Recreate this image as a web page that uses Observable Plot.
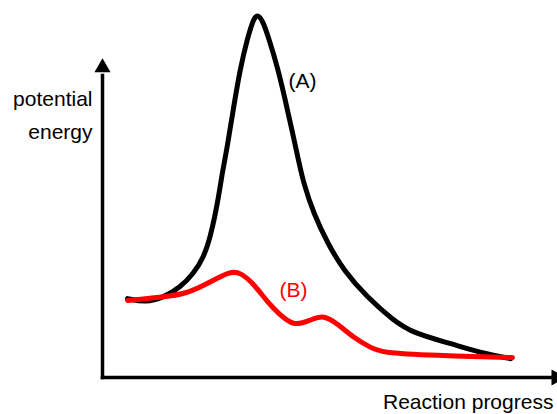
<!DOCTYPE html>
<html>
<head>
<meta charset="utf-8">
<script src="https://cdn.jsdelivr.net/npm/d3@7"></script>
<script src="https://cdn.jsdelivr.net/npm/@observablehq/plot@0.6"></script>
<style>
  html, body { margin: 0; padding: 0; background: #fff; }
  #chart svg { display: block; }
</style>
</head>
<body>
<div id="chart"></div>
<script>
// Curve (A): uncatalysed reaction (reaction progress, potential energy)
const curveAx = [5.5, 9.5, 13.4, 17.1, 20.0, 22.2, 23.7, 25.3, 26.4, 27.3, 28.8, 30.3, 31.9, 33.2, 34.1, 35.2, 36.5, 38.5, 40.2, 41.8, 43.1, 44.2, 46.4, 49.5, 53.0, 58.2, 64.0, 68.4, 76.5, 83.7, 89.7];
const curveAy = [21.8, 20.7, 22.1, 24.9, 28.7, 33.1, 38.7, 48.1, 57.2, 62.7, 74.6, 85.6, 93.9, 99.2, 100.3, 98.6, 93.9, 85.6, 76.5, 67.4, 59.9, 53.6, 45.3, 37.0, 29.6, 22.1, 15.7, 12.2, 9.4, 6.6, 5.2];
// Curve (B): catalysed reaction
const curveBx = [5.5, 12.7, 18.7, 23.1, 28.1, 30.3, 33.2, 36.5, 38.5, 42.0, 45.7, 48.6, 51.6, 55.2, 58.9, 61.1, 72.7, 90.1];
const curveBy = [21.3, 22.1, 23.2, 26.0, 29.4, 29.0, 26.0, 20.4, 18.0, 14.0, 15.9, 17.3, 14.9, 11.0, 8.3, 6.9, 6.1, 5.5];

// Axes (drawn as arrows)
const axisX = [0, 98.9];
const axisYTop = 83.4;
const arrowX = 99.7;
const arrowYTop = 85.6;

// Labels
const labelTexts = ["(A)", "(B)"];
const labelX = [40.9, 38.9];
const labelY = [80.1, 22.1];
const labelColors = ["#000000", "#ff0000"];
const yTitleLines = ["potential", "energy"];
const yTitleX = [-2.2, -2.2];
const yTitleY = [75.0, 66.0];
const xTitle = "Reaction progress";
const xTitleX = 99.1;
const xTitleY = -8.8;

const A = curveAx.map((x, i) => ({x, y: curveAy[i]}));
const B = curveBx.map((x, i) => ({x, y: curveBy[i]}));
const labels = labelTexts.map((t, i) => ({t, x: labelX[i], y: labelY[i], c: labelColors[i]}));
const yTitle = yTitleLines.map((t, i) => ({t, x: yTitleX[i], y: yTitleY[i]}));

const FONT = '"Liberation Sans", Arial, Helvetica, sans-serif';

const chart = Plot.plot({
  width: 557,
  height: 414,
  marginLeft: 102,
  marginRight: 0,
  marginTop: 15,
  marginBottom: 37,
  style: {fontFamily: FONT, background: "#fff"},
  x: {domain: [0, 100], axis: null},
  y: {domain: [0, 100], axis: null},
  marks: [
    Plot.line([{x: axisX[0], y: 0}, {x: axisX[1], y: 0}], {x: "x", y: "y", stroke: "#000", strokeWidth: 3.5, strokeLinecap: "square"}),
    Plot.line([{x: 0, y: 0}, {x: 0, y: axisYTop}], {x: "x", y: "y", stroke: "#000", strokeWidth: 3.5, strokeLinecap: "square"}),
    Plot.dot([{x: 0, y: arrowYTop}], {x: "x", y: "y", symbol: "triangle", r: 6, fill: "#000", stroke: null}),
    Plot.dot([{x: arrowX, y: 0}], {x: "x", y: "y", symbol: "triangle", r: 6, fill: "#000", stroke: null, rotate: 90}),
    Plot.line(A, {x: "x", y: "y", stroke: "#000", strokeWidth: 5, curve: "basis"}),
    Plot.line(B, {x: "x", y: "y", stroke: "#ff0000", strokeWidth: 5, curve: "basis"}),
    Plot.text(labels, {x: "x", y: "y", text: "t", fill: "c", textAnchor: "start", lineAnchor: "bottom", fontSize: 21, fontFamily: FONT}),
    Plot.text(yTitle, {x: "x", y: "y", text: "t", fill: "#000", textAnchor: "end", lineAnchor: "bottom", fontSize: 21, fontFamily: FONT}),
    Plot.text([{t: xTitle, x: xTitleX, y: xTitleY}], {x: "x", y: "y", text: "t", fill: "#000", textAnchor: "end", lineAnchor: "bottom", fontSize: 21, fontFamily: FONT})
  ]
});
document.getElementById("chart").appendChild(chart);
</script>
</body>
</html>
